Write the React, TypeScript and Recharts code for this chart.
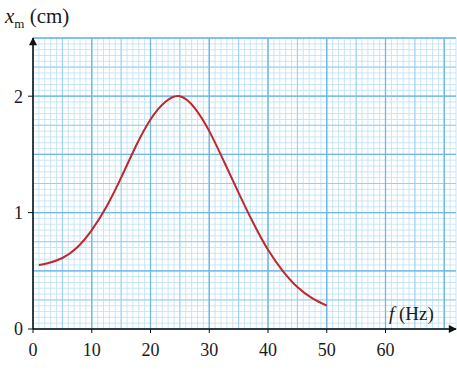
import { LineChart, Line, XAxis, YAxis, ReferenceLine } from 'recharts';

// resonance curve: amplitude x_m (cm) against driving frequency f (Hz)
const freq = [1, 2.5, 5, 7.5, 10, 12.5, 15, 17.5, 20, 22.5, 25, 27.5, 30, 32.5, 35, 37.5, 40, 42.5, 45, 47.5, 50];
const amplitude = [0.55, 0.565, 0.61, 0.7, 0.85, 1.05, 1.3, 1.57, 1.8, 1.95, 2.0, 1.9, 1.7, 1.44, 1.17, 0.91, 0.68, 0.5, 0.36, 0.265, 0.2];

const xTicks = [0, 10, 20, 30, 40, 50, 60];
const yTicks = [0, 1, 2];
const xMax = 72;
const yMax = 2.5;

const data = freq.map((f, i) => ({ f, x: amplitude[i] }));

// graph paper: fine 1 Hz / 0.05 cm, medium 5 Hz / 0.25 cm, bold 10 Hz / 0.5 cm
const vFine = Array.from({ length: xMax + 1 }, (_, i) => i);
const hFine = Array.from({ length: 51 }, (_, i) => Math.round(i * 5) / 100);
const vMid = vFine.filter((v) => v % 5 === 0);
const hMid = hFine.filter((_, i) => i % 5 === 0);
const vBold = vFine.filter((v) => v % 10 === 0);
const hBold = hFine.filter((_, i) => i % 10 === 0);

const FONT = '"Liberation Serif", "DejaVu Serif", serif';

export default function App() {
  return (
    <div style={{ position: 'absolute', left: 0, top: 0, width: 457, height: 370, background: '#fff', fontFamily: FONT }}>
      <style>{'.recharts-text, .recharts-cartesian-axis-tick-value { font-family: "Liberation Serif", serif; }'}</style>
      <LineChart width={457} height={370} data={data} margin={{ top: 38, right: 1, left: 0, bottom: 0 }}>
        <defs>
          <marker
            id="arrowHead"
            viewBox="0 0 10 10"
            refX="9"
            refY="5"
            markerWidth="11"
            markerHeight="8"
            markerUnits="userSpaceOnUse"
            orient="auto-start-reverse"
          >
            <path d="M0,0 L10,5 L0,10 z" fill="#111" />
          </marker>
        </defs>
        <XAxis
          dataKey="f"
          type="number"
          domain={[0, xMax]}
          ticks={xTicks}
          interval={0}
          height={41}
          tickSize={4}
          tickMargin={10}
          axisLine={{ stroke: '#111', strokeWidth: 1.5, markerEnd: 'url(#arrowHead)' }}
          tickLine={{ stroke: '#111' }}
          tick={{ fill: '#1a1a1a', fontSize: 18, fontFamily: 'Liberation Serif' }}
        />
        <YAxis
          type="number"
          domain={[0, yMax]}
          ticks={yTicks}
          interval={0}
          width={33}
          tickSize={5}
          tickMargin={5}
          axisLine={{ stroke: '#111', strokeWidth: 1.5, markerStart: 'url(#arrowHead)' }}
          tickLine={{ stroke: '#111' }}
          tick={{ fill: '#1a1a1a', fontSize: 18, fontFamily: 'Liberation Serif' }}
        />
        {vFine.map((v) => (
          <ReferenceLine key={'vf' + v} x={v} stroke="#bde0f5" strokeWidth={0.8} />
        ))}
        {hFine.map((v) => (
          <ReferenceLine key={'hf' + v} y={v} stroke="#bde0f5" strokeWidth={0.8} />
        ))}
        {vMid.map((v) => (
          <ReferenceLine key={'vm' + v} x={v} stroke="#9acff0" strokeWidth={1} />
        ))}
        {hMid.map((v) => (
          <ReferenceLine key={'hm' + v} y={v} stroke="#9acff0" strokeWidth={1} />
        ))}
        {vBold.map((v) => (
          <ReferenceLine key={'vb' + v} x={v} stroke="#6fb7e5" strokeWidth={1.3} />
        ))}
        {hBold.map((v) => (
          <ReferenceLine key={'hb' + v} y={v} stroke="#6fb7e5" strokeWidth={1.3} />
        ))}
        <Line
          type="natural"
          dataKey="x"
          stroke="#c0262a"
          strokeWidth={2}
          dot={false}
          isAnimationActive={false}
        />
      </LineChart>
      <div style={{ position: 'absolute', left: 5, top: 4, fontSize: 21, color: '#1a1a1a', whiteSpace: 'nowrap' }}>
        <i>x</i>
        <sub style={{ fontSize: 13 }}>m</sub> (cm)
      </div>
      <div style={{ position: 'absolute', left: 389, top: 303, fontSize: 19, color: '#1a1a1a', whiteSpace: 'nowrap' }}>
        <i>f</i> (Hz)
      </div>
    </div>
  );
}
